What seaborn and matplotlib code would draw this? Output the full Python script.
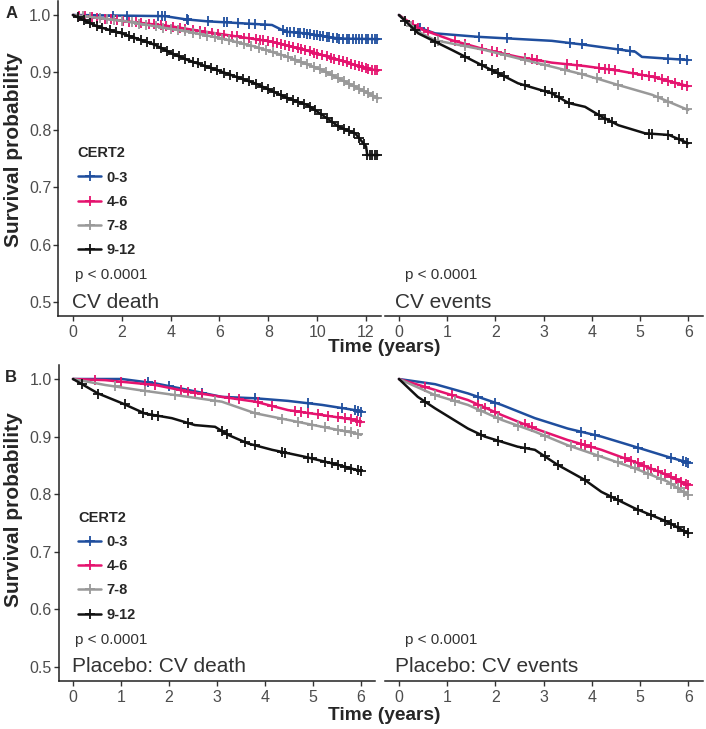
import numpy as np
import pandas as pd
import matplotlib
matplotlib.use("Agg")
import matplotlib.pyplot as plt
from matplotlib.lines import Line2D
import seaborn as sns

# grupy CERT2 i kolory
grupy = ['0-3', '4-6', '7-8', '9-12']
kolory = ['#1f4e9e', '#e5136e', '#999999', '#111111']

# --- A: CV death (czas, przezycie, cenzurowania) ---
death_03_t = [0, 3.77, 4.6, 5.5, 8.15, 8.7, 9.5, 10.9, 12.5]
death_03_s = [1.0, 0.998, 0.9925, 0.989, 0.9826, 0.971, 0.968, 0.959, 0.958]
death_03_c = [1.65, 2.2, 3.5, 3.65, 3.77, 4.65, 4.72, 5.54, 6.2, 6.29, 6.77, 7.2, 7.45, 7.86,
              8.6, 8.75, 8.9, 9.05, 9.2, 9.3, 9.45, 9.6, 9.7, 9.85, 10.0, 10.1, 10.25, 10.4,
              10.5, 10.65, 10.8, 10.9, 11.05, 11.2, 11.3, 11.45, 11.6, 11.7, 11.85, 12.0,
              12.1, 12.25, 12.35, 12.45]
death_46_t = [0, 2.0, 4.05, 5.4, 6.8, 8.15, 9.5, 10.9, 12.0, 12.5]
death_46_s = [1.0, 0.990, 0.980, 0.971, 0.962, 0.9535, 0.939, 0.9216, 0.907, 0.903]
death_46_c = [0.25, 0.5, 0.8, 1.0, 1.3, 1.55, 1.8, 2.05, 2.3, 2.6, 2.8, 3.1, 3.3, 3.6, 3.8,
              4.1, 4.4, 4.6, 4.9, 5.2, 5.4, 5.7, 5.95, 6.2, 6.5, 6.7, 7.0, 7.2, 7.5, 7.65,
              7.8, 8.0, 8.2, 8.35, 8.5, 8.7, 8.85, 9.0, 9.2, 9.35, 9.5, 9.7, 9.85, 10.0,
              10.2, 10.4, 10.55, 10.7, 10.9, 11.05, 11.2, 11.4, 11.55, 11.7, 11.85, 12.0,
              12.1, 12.25, 12.35, 12.45]
death_78_t = [0, 2.0, 4.7, 6.1, 7.45, 8.8, 10.2, 11.55, 12.5]
death_78_s = [1.0, 0.990, 0.971, 0.959, 0.945, 0.927, 0.904, 0.875, 0.855]
death_78_c = [0.4, 0.7, 1.1, 1.4, 1.7, 2.0, 2.4, 2.7, 3.0, 3.4, 3.7, 4.0, 4.3, 4.6, 4.9,
              5.2, 5.5, 5.8, 6.1, 6.4, 6.7, 7.0, 7.3, 7.6, 7.9, 8.2, 8.5, 8.8, 9.1, 9.35,
              9.6, 9.85, 10.1, 10.35, 10.6, 10.85, 11.1, 11.3, 11.5, 11.7, 11.9, 12.1,
              12.3, 12.45]
death_912_t = [0, 1.0, 2.0, 3.36, 4.05, 4.7, 6.1, 7.45, 8.8, 9.6, 10.2, 10.9, 11.55, 12.0, 12.05, 12.5]
death_912_s = [1.0, 0.980, 0.968, 0.948, 0.933, 0.9216, 0.901, 0.881, 0.855, 0.843, 0.826,
               0.805, 0.794, 0.771, 0.756, 0.756]
death_912_c = [0.2, 0.45, 0.7, 1.0, 1.2, 1.5, 1.75, 2.0, 2.3, 2.5, 2.8, 3.05, 3.3, 3.6, 3.85,
               4.1, 4.35, 4.6, 4.9, 5.1, 5.4, 5.65, 5.9, 6.2, 6.45, 6.7, 6.95, 7.2, 7.5,
               7.75, 8.0, 8.25, 8.5, 8.75, 9.0, 9.2, 9.45, 9.7, 9.9, 10.15, 10.4, 10.6,
               10.85, 11.1, 11.3, 11.5, 11.7, 11.9, 12.05, 12.15, 12.25, 12.35, 12.45]

# --- A: CV events ---
events_03_t = [0, 0.26, 0.75, 1.64, 3.17, 3.86, 4.9, 5.04, 6.0]
events_03_s = [1.0, 0.9826, 0.968, 0.962, 0.955, 0.948, 0.936, 0.927, 0.9216]
events_03_c = [0.44, 1.65, 2.24, 3.55, 3.79, 4.55, 4.8, 5.59, 5.83, 5.97]
events_46_t = [0, 0.4, 1.1, 1.78, 2.47, 3.17, 3.86, 4.55, 5.25, 6.0]
events_46_s = [1.0, 0.977, 0.956, 0.940, 0.927, 0.917, 0.911, 0.903, 0.8925, 0.876]
events_46_c = [0.3, 0.4, 0.61, 1.16, 1.37, 1.72, 1.92, 2.03, 2.2, 2.62, 2.75, 2.86, 3.48,
               3.69, 4.14, 4.28, 4.35, 4.48, 4.86, 5.04, 5.18, 5.31, 5.45, 5.59, 5.73,
               5.87, 5.97]
events_78_t = [0, 0.4, 0.75, 1.78, 2.47, 3.17, 3.86, 4.55, 5.25, 6.0]
events_78_s = [1.0, 0.971, 0.956, 0.939, 0.9245, 0.910, 0.8955, 0.878, 0.861, 0.8345]
events_78_c = [0.26, 0.82, 1.37, 2.2, 2.62, 3.03, 3.45, 3.79, 4.1, 4.55, 5.38, 5.59, 5.97]
events_912_t = [0, 0.4, 1.1, 1.78, 2.13, 2.47, 3.17, 3.52, 3.86, 4.2, 4.55, 5.1, 5.6, 6.0]
events_912_s = [1.0, 0.968, 0.939, 0.910, 0.8955, 0.881, 0.8636, 0.8466, 0.840, 0.823,
                0.808, 0.794, 0.791, 0.7765]
events_912_c = [0.12, 0.33, 0.75, 1.37, 1.72, 1.92, 2.06, 2.17, 2.62, 3.03, 3.17, 3.31,
                3.52, 4.14, 4.28, 4.41, 5.18, 5.24, 5.59, 5.8, 5.97]

# --- B: Placebo CV death ---
pdeath_03_t = [0, 1.02, 1.71, 2.4, 3.1, 3.8, 4.48, 5.19, 5.875, 6.0]
pdeath_03_s = [1.0, 1.0, 0.9925, 0.981, 0.969, 0.9665, 0.962, 0.955, 0.946, 0.943]
pdeath_03_c = [1.57, 1.99, 2.68, 3.79, 4.9, 5.6, 5.875, 5.94, 6.0]
pdeath_46_t = [0, 0.67, 1.71, 2.4, 3.1, 3.8, 4.48, 5.19, 5.875, 6.0]
pdeath_46_s = [1.0, 0.998, 0.9896, 0.978, 0.969, 0.9606, 0.946, 0.9375, 0.929, 0.925]
pdeath_46_c = [0.46, 1.01, 1.5, 1.71, 2.26, 2.4, 2.54, 2.68, 3.24, 3.45, 3.86, 4.14, 4.63,
               4.76, 4.9, 5.11, 5.32, 5.53, 5.67, 5.8, 5.91, 5.98]
pdeath_78_t = [0, 0.67, 1.36, 2.4, 3.1, 3.8, 4.48, 5.19, 5.875, 6.0]
pdeath_78_s = [1.0, 0.9896, 0.981, 0.969, 0.9606, 0.9404, 0.929, 0.917, 0.906, 0.903]
pdeath_78_c = [0.88, 1.5, 2.13, 2.96, 3.79, 4.35, 4.69, 4.97, 5.25, 5.53, 5.67, 5.8, 5.94]
pdeath_912_t = [0, 0.52, 1.02, 1.5, 2.06, 2.54, 2.96, 3.23, 3.65, 4.15, 4.83, 5.52, 6.0]
pdeath_912_s = [1.0, 0.975, 0.958, 0.940, 0.932, 0.920, 0.917, 0.903, 0.888, 0.877,
                0.865, 0.851, 0.840]
pdeath_912_c = [0.18, 0.53, 1.08, 1.46, 1.64, 1.78, 2.4, 3.1, 3.2, 3.58, 3.79, 4.35, 4.42,
                4.9, 4.97, 5.25, 5.39, 5.53, 5.67, 5.8, 5.94, 6.0]

# --- B: Placebo CV events ---
pevents_03_t = [0, 0.75, 1.43, 2.13, 2.82, 3.5, 4.2, 4.89, 5.57, 6.0]
pevents_03_s = [1.0, 0.991, 0.975, 0.955, 0.932, 0.914, 0.900, 0.8825, 0.865, 0.855]
pevents_03_c = [1.64, 1.99, 3.78, 4.06, 4.95, 5.64, 5.89, 5.96, 6.0]
pevents_46_t = [0, 0.75, 1.43, 2.13, 2.82, 3.5, 4.2, 4.89, 5.57, 6.0]
pevents_46_s = [1.0, 0.981, 0.9635, 0.9375, 0.914, 0.894, 0.877, 0.856, 0.833, 0.816]
pevents_46_c = [0.54, 1.09, 1.64, 1.78, 1.99, 2.61, 2.75, 3.78, 3.85, 3.99, 4.68, 4.82,
                4.95, 5.09, 5.23, 5.37, 5.51, 5.64, 5.75, 5.85, 5.96, 6.0]
pevents_78_t = [0, 0.75, 1.43, 2.13, 2.82, 3.5, 4.2, 4.89, 5.57, 6.0]
pevents_78_s = [1.0, 0.972, 0.955, 0.929, 0.9085, 0.885, 0.865, 0.845, 0.822, 0.7986]
pevents_78_c = [0.75, 1.16, 1.71, 2.06, 2.47, 3.02, 3.57, 4.13, 4.54, 4.89, 5.16, 5.44,
                5.64, 5.78, 5.92, 6.0]
pevents_912_t = [0, 0.39, 0.75, 1.43, 1.78, 2.46, 2.82, 3.29, 3.85, 4.2, 4.89, 5.57, 6.0]
pevents_912_s = [1.0, 0.969, 0.949, 0.914, 0.900, 0.8825, 0.877, 0.851, 0.825, 0.804,
                 0.7755, 0.752, 0.732]
pevents_912_c = [0.54, 1.71, 2.06, 2.61, 3.02, 3.3, 3.85, 4.4, 4.54, 4.95, 5.23, 5.51,
                 5.64, 5.78, 5.92, 6.0]

panele = [
    ('CV death', [(death_03_t, death_03_s, death_03_c), (death_46_t, death_46_s, death_46_c),
                  (death_78_t, death_78_s, death_78_c), (death_912_t, death_912_s, death_912_c)]),
    ('CV events', [(events_03_t, events_03_s, events_03_c), (events_46_t, events_46_s, events_46_c),
                   (events_78_t, events_78_s, events_78_c), (events_912_t, events_912_s, events_912_c)]),
    ('Placebo: CV death', [(pdeath_03_t, pdeath_03_s, pdeath_03_c), (pdeath_46_t, pdeath_46_s, pdeath_46_c),
                           (pdeath_78_t, pdeath_78_s, pdeath_78_c), (pdeath_912_t, pdeath_912_s, pdeath_912_c)]),
    ('Placebo: CV events', [(pevents_03_t, pevents_03_s, pevents_03_c), (pevents_46_t, pevents_46_s, pevents_46_c),
                            (pevents_78_t, pevents_78_s, pevents_78_c), (pevents_912_t, pevents_912_s, pevents_912_c)]),
]

sns.set_style('white')
plt.rcParams['font.family'] = ['Liberation Sans', 'DejaVu Sans']

W, H = 706, 729
fig = plt.figure(figsize=(W / 100, H / 100), dpi=100)


def px_axes(left, top, right, bottom):
    return fig.add_axes([left / W, 1 - bottom / H, (right - left) / W, (bottom - top) / H])


# pozycje paneli w pikselach + zakres osi x
uklad = [
    ((58.3, 0.65, 380.7, 316.35), (-0.6, 12.6), range(0, 13, 2), True),
    ((384.5, 0.65, 702.7, 316.35), (-0.3, 6.3), range(0, 7), False),
    ((58.6, 364.6, 375.4, 681.4), (-0.3, 6.3), range(0, 7), True),
    ((384.5, 364.6, 702.7, 681.4), (-0.3, 6.3), range(0, 7), False),
]

tekst_kolor = '#333333'
ms, mew, lw = 6.5, 1.3, 1.8

for (tytul, krzywe), (poz, xlim, xt, lewy) in zip(panele, uklad):
    ax = px_axes(*poz)
    for g, kol, (t, s, c) in zip(grupy, kolory, krzywe):
        df = pd.DataFrame({'time': t, 'surv': s})
        sns.lineplot(data=df, x='time', y='surv', color=kol, lw=lw, estimator=None,
                     sort=False, ax=ax, clip_on=False, zorder=3)
        cy = np.interp(c, t, s)
        ax.plot(c, cy, ls='none', marker='+', color=kol, markersize=ms, mew=mew,
                clip_on=False, zorder=3)
    ax.set_xlim(*xlim)
    ax.set_ylim(0.475, 1.025)
    ax.set_xticks(list(xt))
    ax.set_xlabel('')
    ax.set_ylabel('')
    for sp in ['top', 'right']:
        ax.spines[sp].set_visible(False)
    ax.spines['bottom'].set_color('#222222')
    ax.spines['bottom'].set_linewidth(1.1)
    if lewy:
        ax.spines['left'].set_color('#222222')
        ax.spines['left'].set_linewidth(1.1)
        ax.set_yticks([0.5, 0.6, 0.7, 0.8, 0.9, 1.0])
        ax.set_yticklabels(['0.5', '0.6', '0.7', '0.8', '0.9', '1.0'])
        ax.tick_params(axis='y', length=3.5, width=1, color='#333333', pad=1.5,
                       labelsize=11.5, labelcolor='#4d4d4d', left=True)
        leg = ax.legend(handles=[Line2D([], [], color=k, lw=lw, marker='+', markersize=ms + 1, mew=mew)
                                 for k in kolory],
                        labels=grupy, title='CERT2', loc='upper left',
                        bbox_to_anchor=(0.02, 0.58), frameon=False, handlelength=1.6,
                        handletextpad=0.35, labelspacing=0.7,
                        prop={'weight': 'bold', 'size': 10.5},
                        title_fontproperties={'weight': 'bold', 'size': 10.5})
        leg._legend_box.align = 'left'
        px, tx = 0.05, -0.02
        if xlim[1] > 7:
            px, tx = 0.1, -0.04
    else:
        ax.spines['left'].set_visible(False)
        ax.set_yticks([])
        px, tx = 0.12, -0.08
    ax.tick_params(axis='x', length=3.5, width=1, color='#333333', pad=2.5,
                   labelsize=11.5, labelcolor='#4d4d4d', bottom=True)
    ax.text(px, 0.547, 'p < 0.0001', fontsize=11, color=tekst_kolor, va='center', ha='left')
    ax.text(tx, 0.5, tytul, fontsize=15, color=tekst_kolor, va='center', ha='left')

# etykiety wspolne
fig.text(384 / W, 1 - 347 / H, 'Time (years)', fontsize=13.8, fontweight='bold', ha='center', va='center')
fig.text(384 / W, 1 - 715 / H, 'Time (years)', fontsize=13.8, fontweight='bold', ha='center', va='center')
fig.text(14 / W, 1 - 150 / H, 'Survival probability', fontsize=15, fontweight='bold',
         rotation=90, ha='center', va='center')
fig.text(14 / W, 1 - 510 / H, 'Survival probability', fontsize=15, fontweight='bold',
         rotation=90, ha='center', va='center')
fig.text(12 / W, 1 - 13 / H, 'A', fontsize=12, fontweight='bold', ha='center', va='center')
fig.text(11 / W, 1 - 377 / H, 'B', fontsize=12, fontweight='bold', ha='center', va='center')

fig.savefig('out.png', dpi=100)
